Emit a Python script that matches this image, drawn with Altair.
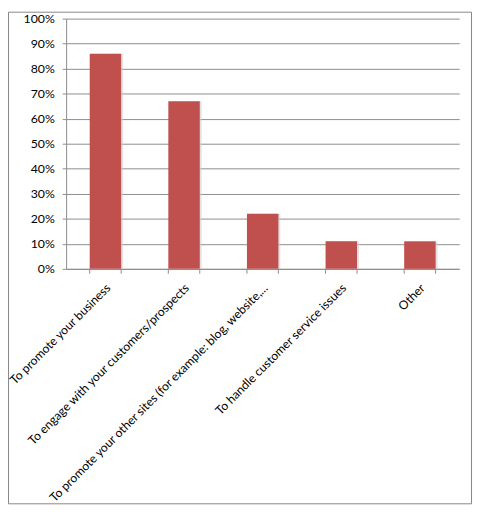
import altair as alt
import pandas as pd

categories = [
    "To promote your business",
    "To engage with your customers/prospects",
    "To promote your other sites (for example: blog, website,...",
    "To handle customer service issues",
    "Other",
]
values = [0.86, 0.67, 0.22, 0.11, 0.11]
y_ticks = [0, 0.1, 0.2, 0.3, 0.4, 0.5, 0.6, 0.7, 0.8, 0.9, 1.0]

df = pd.DataFrame({"cat": categories, "val": values})

W, H = 399, 254
GRID = "#8c8c8c"
FONT = "Lato"

xscale = alt.Scale(paddingInner=0.6, paddingOuter=0.3)


def xenc(**kw):
    return alt.X(
        "cat:N",
        sort=categories,
        scale=xscale,
        axis=alt.Axis(
            title=None,
            labelAngle=-45,
            labelAlign="right",
            labelBaseline="middle",
            ticks=False,
            labelPadding=17,
            labelOffset=3,
            labelFont=FONT,
            labelFontSize=12.3,
            labelColor="#000000",
            labelLimit=400,
            domainColor=GRID,
        ),
        **kw,
    )


yenc = alt.Y(
    "val:Q",
    scale=alt.Scale(domain=[0, 1], nice=False),
    axis=alt.Axis(
        title=None,
        format="%",
        values=y_ticks,
        grid=True,
        gridColor=GRID,
        domainColor=GRID,
        tickColor=GRID,
        tickSize=4,
        labelPadding=8,
        labelFont=FONT,
        labelFontSize=12.5,
        labelColor="#000000",
    ),
)

base = alt.Chart(df)

shadow = base.mark_bar(color="#cfcfcf", opacity=0.6, xOffset=2).encode(x=xenc(), y=yenc)
bars = base.mark_bar(color="#C0504D").encode(x=xenc(), y=yenc)

tick_l = base.mark_rule(color=GRID).encode(
    x=xenc(bandPosition=0), y=alt.value(H), y2=alt.value(H + 5)
)
tick_r = base.mark_rule(color=GRID).encode(
    x=xenc(bandPosition=1), y=alt.value(H), y2=alt.value(H + 5)
)

frame = alt.Chart(pd.DataFrame({"a": [0]})).mark_rect(
    fill=None, stroke="#868686", strokeWidth=1
).encode(
    x=alt.value(-58.5), x2=alt.value(W + 12.5), y=alt.value(-6.5), y2=alt.value(H + 238.5)
)

chart = (
    alt.layer(shadow, bars, tick_l, tick_r, frame)
    .properties(
        width=W,
        height=H,
        padding={"left": 59, "top": 7, "right": 14, "bottom": 239},
        autosize=alt.AutoSizeParams(type="none"),
        background="white",
    )
    .configure_view(stroke=None)
)

chart.save("out.html", embed_options={"renderer": "svg", "actions": False})
